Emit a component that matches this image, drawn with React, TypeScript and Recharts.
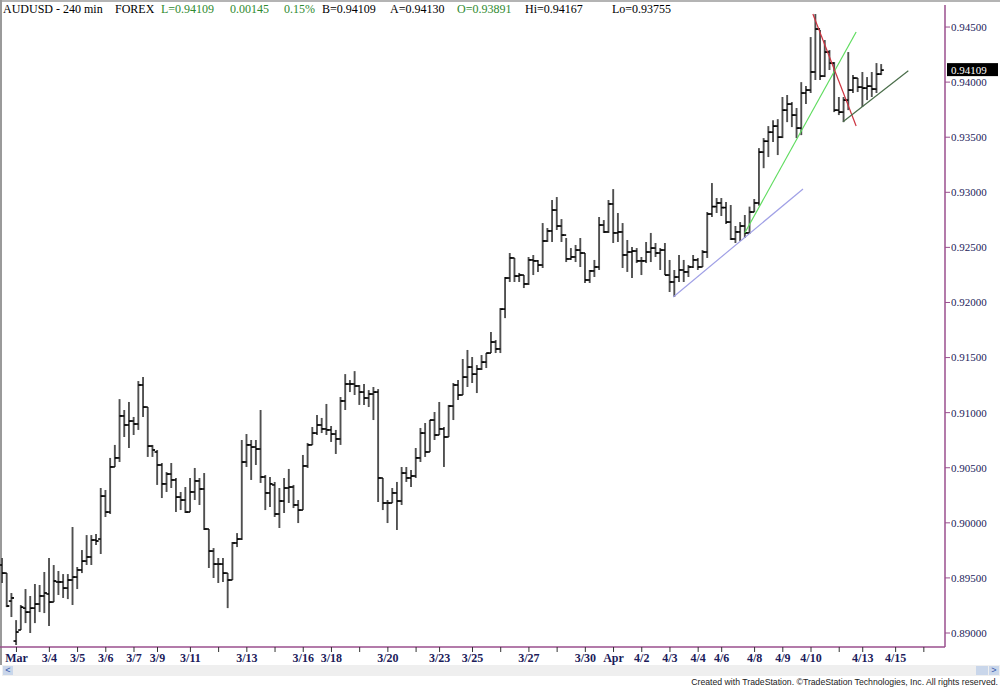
import React from 'react';
import { ComposedChart, Bar, XAxis, YAxis, ReferenceLine } from 'recharts';

// AUDUSD 240 min bars
const high = [
  0.89681, 0.89544, 0.89363, 0.89117, 0.89254, 0.89399, 0.89336, 0.89445, 0.89436, 0.89554,
  0.89681, 0.89617, 0.89563, 0.89535, 0.89535, 0.89962, 0.89599, 0.89753, 0.89889, 0.89889,
  0.89898, 0.90316, 0.90298, 0.90589, 0.90707, 0.91123, 0.91024, 0.91097, 0.90961, 0.91287,
  0.91323, 0.91051, 0.90707, 0.90661, 0.90543, 0.90461, 0.90543, 0.90407, 0.90280, 0.90325,
  0.90407, 0.90498, 0.90407, 0.90452, 0.89944, 0.89771, 0.89681, 0.89681, 0.89544, 0.89826,
  0.89907, 0.90752, 0.90806, 0.90752, 0.90752, 0.91024, 0.90434, 0.90416, 0.90371, 0.90316,
  0.90407, 0.90489, 0.90344, 0.90207, 0.90616, 0.90725, 0.90870, 0.90979, 0.90952, 0.91079,
  0.90879, 0.90843, 0.91142, 0.91350, 0.91296, 0.91377, 0.91251, 0.91260, 0.91205, 0.91233,
  0.91214, 0.90407, 0.90207, 0.90316, 0.90371, 0.90507, 0.90507, 0.90479, 0.90679, 0.90861,
  0.90906, 0.90933, 0.91006, 0.91097, 0.90870, 0.91070, 0.91269, 0.91296, 0.91487, 0.91569,
  0.91505, 0.91432, 0.91523, 0.91541, 0.91732, 0.91659, 0.91949, 0.92231, 0.92449, 0.92404,
  0.92268, 0.92249, 0.92413, 0.92431, 0.92386, 0.92721, 0.92676, 0.92930, 0.92957, 0.92757,
  0.92585, 0.92494, 0.92522, 0.92585, 0.92449, 0.92295, 0.92386, 0.92776, 0.92748, 0.92930,
  0.93029, 0.92812, 0.92721, 0.92567, 0.92503, 0.92494, 0.92413, 0.92549, 0.92631, 0.92540,
  0.92494, 0.92540, 0.92386, 0.92295, 0.92431, 0.92386, 0.92340, 0.92431, 0.92404, 0.92476,
  0.92821, 0.93084, 0.92948, 0.92948, 0.92912, 0.92885, 0.92694, 0.92730, 0.92794, 0.92870,
  0.92939, 0.93401, 0.93492, 0.93601, 0.93655, 0.93664, 0.93865, 0.93883, 0.93819, 0.93765,
  0.94000, 0.93964, 0.94409, 0.94618, 0.94473, 0.94382, 0.94291, 0.94182, 0.93865, 0.93865,
  0.94273, 0.94064, 0.94037, 0.94092, 0.94046, 0.94092, 0.94173, 0.94164,
];
const low = [
  0.89454, 0.89235, 0.89145, 0.88891, 0.89027, 0.89090, 0.89000, 0.89090, 0.89190, 0.89181,
  0.89063, 0.89281, 0.89345, 0.89318, 0.89308, 0.89254, 0.89399, 0.89544, 0.89617, 0.89617,
  0.89799, 0.89717, 0.90053, 0.90080, 0.90507, 0.90552, 0.90779, 0.90679, 0.90797, 0.90843,
  0.90961, 0.90598, 0.90598, 0.90344, 0.90225, 0.90280, 0.90316, 0.90098, 0.90116, 0.90089,
  0.90098, 0.90207, 0.90162, 0.89935, 0.89590, 0.89499, 0.89454, 0.89463, 0.89226, 0.89481,
  0.89780, 0.89844, 0.90507, 0.90389, 0.90525, 0.90362, 0.90116, 0.90144, 0.90053, 0.89953,
  0.90089, 0.90180, 0.90134, 0.89998, 0.90116, 0.90498, 0.90707, 0.90797, 0.90815, 0.90797,
  0.90734, 0.90625, 0.90707, 0.91024, 0.91187, 0.91160, 0.91070, 0.91070, 0.91051, 0.90933,
  0.90189, 0.90116, 0.89998, 0.90180, 0.89935, 0.90162, 0.90371, 0.90325, 0.90407, 0.90552,
  0.90598, 0.90643, 0.90752, 0.90797, 0.90507, 0.90779, 0.90933, 0.91115, 0.91160, 0.91233,
  0.91269, 0.91178, 0.91387, 0.91405, 0.91541, 0.91541, 0.91541, 0.91858, 0.92186, 0.92186,
  0.92186, 0.92131, 0.92159, 0.92249, 0.92277, 0.92313, 0.92549, 0.92549, 0.92658, 0.92549,
  0.92367, 0.92386, 0.92367, 0.92322, 0.92177, 0.92177, 0.92231, 0.92295, 0.92631, 0.92631,
  0.92540, 0.92549, 0.92313, 0.92277, 0.92222, 0.92358, 0.92249, 0.92358, 0.92367, 0.92413,
  0.92295, 0.92249, 0.92095, 0.92050, 0.92186, 0.92186, 0.92231, 0.92313, 0.92295, 0.92322,
  0.92404, 0.92776, 0.92812, 0.92785, 0.92712, 0.92567, 0.92540, 0.92558, 0.92585, 0.92622,
  0.92821, 0.92879, 0.93219, 0.93320, 0.93456, 0.93338, 0.93492, 0.93637, 0.93592, 0.93492,
  0.93519, 0.93801, 0.93901, 0.94019, 0.94019, 0.94046, 0.94110, 0.93728, 0.93701, 0.93637,
  0.93746, 0.93901, 0.93910, 0.93774, 0.93837, 0.93865, 0.93901, 0.94064,
];
const open = [
  0.89617, 0.89544, 0.89290, 0.88927, 0.89027, 0.89226, 0.89190, 0.89226, 0.89263, 0.89336,
  0.89354, 0.89281, 0.89463, 0.89463, 0.89408, 0.89481, 0.89508, 0.89572, 0.89653, 0.89690,
  0.89844, 0.89853, 0.90243, 0.90098, 0.90507, 0.90589, 0.90970, 0.90888, 0.90924, 0.90897,
  0.91251, 0.91051, 0.90697, 0.90643, 0.90525, 0.90353, 0.90443, 0.90389, 0.90234, 0.90207,
  0.90098, 0.90280, 0.90380, 0.90307, 0.89944, 0.89744, 0.89626, 0.89626, 0.89544, 0.89481,
  0.89817, 0.89853, 0.90552, 0.90707, 0.90688, 0.90670, 0.90416, 0.90271, 0.90344, 0.90080,
  0.90198, 0.90316, 0.90325, 0.90162, 0.90116, 0.90516, 0.90707, 0.90815, 0.90888, 0.90852,
  0.90843, 0.90806, 0.90761, 0.91106, 0.91260, 0.91260, 0.91242, 0.91187, 0.91133, 0.91169,
  0.91187, 0.90407, 0.90180, 0.90180, 0.90271, 0.90198, 0.90452, 0.90407, 0.90425, 0.90589,
  0.90815, 0.90643, 0.90933, 0.90797, 0.90852, 0.90779, 0.91060, 0.91251, 0.91160, 0.91323,
  0.91414, 0.91350, 0.91396, 0.91459, 0.91541, 0.91641, 0.91578, 0.91940, 0.92222, 0.92404,
  0.92240, 0.92249, 0.92168, 0.92386, 0.92377, 0.92340, 0.92558, 0.92649, 0.92839, 0.92694,
  0.92612, 0.92395, 0.92413, 0.92476, 0.92449, 0.92204, 0.92286, 0.92322, 0.92703, 0.92640,
  0.92894, 0.92631, 0.92640, 0.92431, 0.92458, 0.92467, 0.92377, 0.92377, 0.92458, 0.92494,
  0.92449, 0.92476, 0.92249, 0.92186, 0.92231, 0.92295, 0.92277, 0.92322, 0.92386, 0.92322,
  0.92458, 0.92803, 0.92870, 0.92903, 0.92861, 0.92730, 0.92576, 0.92640, 0.92694, 0.92631,
  0.92821, 0.92903, 0.93365, 0.93464, 0.93546, 0.93601, 0.93501, 0.93746, 0.93801, 0.93701,
  0.93583, 0.93901, 0.93928, 0.94092, 0.94482, 0.94055, 0.94273, 0.94173, 0.93746, 0.93728,
  0.93837, 0.93928, 0.94037, 0.93955, 0.93946, 0.93964, 0.93937, 0.94073,
];
const close = [
  0.89544, 0.89245, 0.89318, 0.89009, 0.89235, 0.89190, 0.89226, 0.89263, 0.89336, 0.89363,
  0.89281, 0.89472, 0.89463, 0.89408, 0.89481, 0.89508, 0.89572, 0.89653, 0.89690, 0.89844,
  0.89835, 0.90243, 0.90098, 0.90507, 0.90589, 0.90970, 0.90888, 0.90924, 0.90897, 0.91251,
  0.91051, 0.90697, 0.90661, 0.90525, 0.90353, 0.90443, 0.90389, 0.90234, 0.90207, 0.90098,
  0.90280, 0.90380, 0.90307, 0.89944, 0.89744, 0.89626, 0.89626, 0.89544, 0.89481, 0.89817,
  0.89853, 0.90552, 0.90707, 0.90688, 0.90670, 0.90416, 0.90271, 0.90353, 0.90080, 0.90198,
  0.90316, 0.90325, 0.90162, 0.90116, 0.90516, 0.90707, 0.90815, 0.90888, 0.90852, 0.90843,
  0.90806, 0.90761, 0.91106, 0.91260, 0.91260, 0.91242, 0.91187, 0.91133, 0.91169, 0.91187,
  0.90407, 0.90180, 0.90180, 0.90271, 0.90198, 0.90452, 0.90407, 0.90425, 0.90589, 0.90815,
  0.90643, 0.90933, 0.90797, 0.90852, 0.90779, 0.91060, 0.91251, 0.91160, 0.91323, 0.91414,
  0.91350, 0.91396, 0.91459, 0.91541, 0.91641, 0.91578, 0.91940, 0.92222, 0.92404, 0.92240,
  0.92249, 0.92168, 0.92386, 0.92377, 0.92340, 0.92558, 0.92649, 0.92839, 0.92694, 0.92612,
  0.92395, 0.92413, 0.92476, 0.92449, 0.92204, 0.92286, 0.92322, 0.92703, 0.92640, 0.92894,
  0.92631, 0.92640, 0.92431, 0.92458, 0.92467, 0.92377, 0.92377, 0.92458, 0.92494, 0.92449,
  0.92476, 0.92249, 0.92186, 0.92231, 0.92295, 0.92277, 0.92322, 0.92386, 0.92322, 0.92458,
  0.92803, 0.92870, 0.92903, 0.92861, 0.92730, 0.92576, 0.92640, 0.92694, 0.92631, 0.92821,
  0.92903, 0.93365, 0.93464, 0.93546, 0.93601, 0.93501, 0.93746, 0.93801, 0.93701, 0.93583,
  0.93901, 0.93928, 0.94092, 0.94482, 0.94055, 0.94273, 0.94173, 0.93746, 0.93728, 0.93837,
  0.93928, 0.94037, 0.93955, 0.93946, 0.93964, 0.93937, 0.94073, 0.94109,
];

const bars = high.map((h, i) => ({ i, high: h, low: low[i], open: open[i], close: close[i] }));

// date ticks (bar index where each day starts)
const tickIdx = [3, 10, 16, 22, 28, 33, 40, 46, 52, 58, 64, 70, 76, 82, 88, 93, 100, 106, 112, 118,
  124, 130, 136, 142, 148, 153, 160, 166, 172, 178, 183, 190, 196];
const tickLabels = ['Mar', '3/4', '3/5', '3/6', '3/7', '3/9', '3/11', '', '3/13', '', '3/16', '3/18', '',
  '3/20', '', '3/23', '3/25', '', '3/27', '', '3/30', 'Apr', '4/2', '4/3', '4/4', '4/6', '4/8', '4/9',
  '4/10', '', '4/13', '4/15', ''];

const priceTicks = [0.89, 0.895, 0.9, 0.905, 0.91, 0.915, 0.92, 0.925, 0.93, 0.935, 0.94, 0.945];

// hand drawn trendlines: [bar index, price] at each end
const trendFrom = [[142.7, 0.9205], [157.9, 0.9263], [172.4, 0.94618], [178.8, 0.93641]];
const trendTo = [[170.3, 0.9303], [181.6, 0.94455], [181.6, 0.93602], [192.7, 0.94103]];
const trendColors = ['#a0a0e6', '#5fdc5f', '#cc3340', '#4a6e4a'];

const lastPrice = 0.94109;

const header = [
  { text: 'AUDUSD - 240 min', left: 3, color: '#000' },
  { text: 'FOREX', left: 115, color: '#000' },
  { text: 'L=0.94109', left: 161, color: '#2f8a2f' },
  { text: '0.00145', left: 230, color: '#2f8a2f' },
  { text: '0.15%', left: 284, color: '#2f8a2f' },
  { text: 'B=0.94109', left: 322, color: '#000' },
  { text: 'A=0.94130', left: 390, color: '#000' },
  { text: 'O=0.93891', left: 457, color: '#2f8a2f' },
  { text: 'Hi=0.94167', left: 525, color: '#000' },
  { text: 'Lo=0.93755', left: 612, color: '#000' },
];

const AXIS = '#9a4f8e';
const NAVY = '#1c1c5a';

const OhlcShape = (props: any) => {
  const { x, y, width, height, payload } = props;
  if (x == null || y == null || !payload) return null;
  const cx = x + width / 2;
  const top = Math.min(y, y + height);
  const bot = Math.max(y, y + height);
  const span = payload.high - payload.low || 1e-9;
  const py = (v: number) => top + ((payload.high - v) / span) * (bot - top);
  return (
    <g>
      <line x1={cx} x2={cx} y1={top} y2={bot} stroke="#505050" strokeWidth={1.9} />
      <line x1={cx - 2.6} x2={cx} y1={py(payload.open)} y2={py(payload.open)} stroke="#000" strokeWidth={1.6} />
      <line x1={cx} x2={cx + 2.6} y1={py(payload.close)} y2={py(payload.close)} stroke="#000" strokeWidth={1.8} />
    </g>
  );
};

const PriceFlag = (props: any) => {
  const vb = props.viewBox;
  if (!vb) return null;
  const x = vb.x + vb.width + 2;
  return (
    <g>
      <rect x={x} y={vb.y - 7} width={51} height={13} fill="#000" />
      <text x={x + 4} y={vb.y + 4} fill="#fff" fontSize={11} fontFamily="Liberation Serif">
        {lastPrice.toFixed(5)}
      </text>
    </g>
  );
};

export default function App() {
  return (
    <div style={{ position: 'absolute', left: 0, top: 0, width: 1000, height: 689, background: '#fff', overflow: 'hidden' }}>
      <div style={{ position: 'absolute', left: 0, top: 0, width: 1000, height: 2, background: '#b4b4b4' }} />
      <div style={{ position: 'absolute', left: 0, top: 0, width: 2, height: 665, background: '#9a9a9a' }} />
      <ComposedChart width={1000} height={689} data={bars} margin={{ top: 5, right: 0, bottom: 0, left: 0 }}>
        <XAxis
          dataKey="i"
          type="number"
          domain={[-0.5, 200.5]}
          ticks={tickIdx}
          interval={0}
          height={42}
          tickSize={5}
          tickMargin={1}
          tickFormatter={(v: number) => tickLabels[tickIdx.indexOf(v)] ?? ''}
          tick={{ fill: NAVY, fontSize: 12, fontWeight: 'bold', fontFamily: 'Liberation Serif' }}
          axisLine={{ stroke: AXIS, strokeWidth: 1.5 }}
          tickLine={{ stroke: '#333' }}
        />
        <YAxis
          orientation="right"
          type="number"
          domain={[0.88873, 0.947]}
          allowDataOverflow
          ticks={priceTicks}
          interval={0}
          width={55}
          tickSize={5}
          tickMargin={1}
          tickFormatter={(v: number) => v.toFixed(5)}
          tick={{ fill: NAVY, fontSize: 11, fontFamily: 'Liberation Serif', textAnchor: 'start' }}
          axisLine={{ stroke: AXIS, strokeWidth: 1.5 }}
          tickLine={{ stroke: AXIS }}
        />
        <Bar
          dataKey={(d: any) => [d.low, d.high]}
          barSize={4}
          shape={OhlcShape}
          isAnimationActive={false}
        />
        {trendFrom.map((f, k) => (
          <ReferenceLine
            key={k}
            segment={[{ x: f[0], y: f[1] }, { x: trendTo[k][0], y: trendTo[k][1] }]}
            stroke={trendColors[k]}
            strokeWidth={1.2}
            ifOverflow="visible"
          />
        ))}
        <ReferenceLine y={lastPrice} stroke="none" ifOverflow="visible" label={<PriceFlag />} />
      </ComposedChart>
      {header.map((h) => (
        <span
          key={h.text}
          style={{ position: 'absolute', left: h.left, top: 2, fontSize: 12, fontFamily: 'Liberation Serif', color: h.color, whiteSpace: 'nowrap' }}
        >
          {h.text}
        </span>
      ))}
      <div style={{ position: 'absolute', left: 2, top: 665, width: 998, height: 11, background: '#efefef' }} />
      <div style={{ position: 'absolute', left: 3, top: 666, width: 10, height: 9, background: '#c9d6ea', color: '#3355aa', fontSize: 9, lineHeight: '9px', textAlign: 'center', fontFamily: 'Liberation Sans' }}>{'<'}</div>
      <div style={{ position: 'absolute', left: 976, top: 666, width: 12, height: 9, background: '#c9d6ea' }} />
      <div style={{ position: 'absolute', left: 989, top: 666, width: 10, height: 9, background: '#c9d6ea', color: '#3355aa', fontSize: 9, lineHeight: '9px', textAlign: 'center', fontFamily: 'Liberation Sans' }}>{'>'}</div>
      <div
        style={{ position: 'absolute', right: 2, top: 676, height: 12, lineHeight: '12px', fontSize: 8.7, fontFamily: '"Liberation Sans Narrow", "Liberation Sans", sans-serif', color: '#222', whiteSpace: 'nowrap' }}
      >
        Created with TradeStation. ©TradeStation Technologies, Inc. All rights reserved.
      </div>
    </div>
  );
}
